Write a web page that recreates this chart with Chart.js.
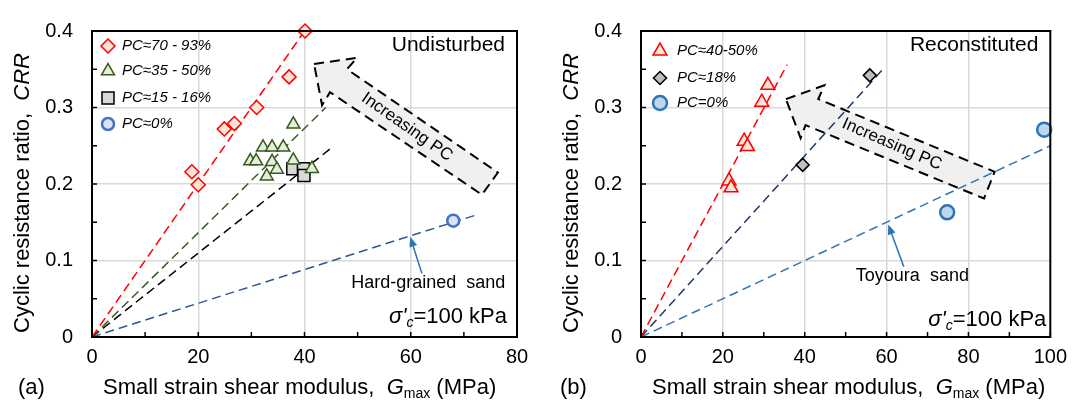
<!DOCTYPE html>
<html><head><meta charset="utf-8">
<script src="https://cdn.jsdelivr.net/npm/chart.js@4.4.1/dist/chart.umd.min.js"></script>
<style>
html,body{margin:0;padding:0;background:#fff;}
#wrap{position:relative;width:1075px;height:408px;overflow:hidden;}
.c{position:absolute;top:0;height:408px;}
</style></head><body>
<div id="wrap">
<div class="c" style="left:0;width:537px"><canvas id="ca" width="537" height="408"></canvas></div>
<div class="c" style="left:537px;width:538px"><canvas id="cb" width="538" height="408"></canvas></div>
</div>
<script>
const FONT = "'Liberation Sans', Arial, sans-serif";

// ---------- Panel (a): Undisturbed ----------
const aHighG   = [18.8, 20.0, 24.9, 26.8, 31.0, 37.1, 40.1];
const aHighCRR = [0.216, 0.199, 0.272, 0.279, 0.300, 0.340, 0.400];
const aMidG    = [37.9, 32.2, 33.9, 36.0, 29.8, 30.9, 33.9, 37.9, 34.8, 32.9, 41.4];
const aMidCRR  = [0.278, 0.248, 0.248, 0.248, 0.230, 0.230, 0.229, 0.231, 0.219, 0.210, 0.220];
const aLowG    = [37.8, 39.8, 39.9];
const aLowCRR  = [0.220, 0.220, 0.211];
const aZeroG   = [68.0];
const aZeroCRR = [0.152];
// trend lines: from origin to these end points
const aTrendEndG   = [40.0, 44.0, 45.2, 72.1];
const aTrendEndCRR = [0.400, 0.300, 0.248, 0.159];
const aLegend = ['PC≈70 - 93%', 'PC≈35 - 50%', 'PC≈15 - 16%', 'PC≈0%'];
const aXTickLabels = ['0', '20', '40', '60', '80'];

// ---------- Panel (b): Reconstituted ----------
const bHighG   = [31.0, 29.5, 25.2, 26.0, 21.5, 22.0];
const bHighCRR = [0.329, 0.307, 0.256, 0.249, 0.204, 0.195];
const bMidG    = [39.5, 55.9];
const bMidCRR  = [0.225, 0.342];
const bZeroG   = [74.8, 98.5];
const bZeroCRR = [0.163, 0.271];
const bTrendEndG   = [35.7, 59.1, 100.0];
const bTrendEndCRR = [0.356, 0.350, 0.250];
const bLegend = ['PC≈40-50%', 'PC≈18%', 'PC=0%'];
const bXTickLabels = ['0', '20', '40', '60', '80', '100'];

const yTickLabels = ['0', '0.1', '0.2', '0.3', '0.4'];

// "Increasing PC" arrow outlines (data coordinates)
const aArrowG   = [41.8, 49.9, 48.0, 76.4, 73.4, 44.8, 43.3];
const aArrowCRR = [0.357, 0.365, 0.350, 0.215, 0.186, 0.320, 0.303];
const bArrowG   = [35.4, 44.8, 43.3, 86.4, 83.8, 40.2, 39.0];
const bArrowCRR = [0.311, 0.329, 0.311, 0.216, 0.181, 0.277, 0.260];

const pts = (xs, ys) => xs.map((x, i) => ({x: x, y: ys[i]}));

function pointSet(label, xs, ys, style, r, border, fill, bw) {
  return {label, data: pts(xs, ys), pointStyle: style, pointRadius: r, pointBorderWidth: bw,
    borderColor: border, backgroundColor: fill, pointBorderColor: border, pointBackgroundColor: fill,
    showLine: false, clip: false, order: 0};
}
function trendSet(gEnd, cEnd, color) {
  return {data: [{x: 0, y: 0}, {x: gEnd, y: cEnd}], showLine: true, pointRadius: 0,
    borderColor: color, borderWidth: 1.5, borderDash: [9, 5], fill: false, clip: false, order: 1};
}

function fontOf(s) { return (s.italic ? 'italic ' : '') + (s.size || 20) + 'px ' + FONT; }
function drawRich(ctx, segs, x, y, align) {
  let total = 0;
  segs.forEach(s => { ctx.font = fontOf(s); s.w = ctx.measureText(s.t).width; total += s.w; });
  let cx = align === 'right' ? x - total : (align === 'center' ? x - total / 2 : x);
  ctx.textBaseline = 'middle'; ctx.textAlign = 'left'; ctx.fillStyle = '#000';
  segs.forEach(s => { ctx.font = fontOf(s); ctx.fillText(s.t, cx, y + (s.dy || 0)); cx += s.w; });
}
function drawArrow(ctx, x1, y1, x2, y2, color) {
  ctx.save();
  ctx.strokeStyle = color; ctx.fillStyle = color; ctx.lineWidth = 1.5; ctx.setLineDash([]);
  const a = Math.atan2(y2 - y1, x2 - x1), L = 10, W = 4;
  ctx.beginPath(); ctx.moveTo(x1, y1); ctx.lineTo(x2 - Math.cos(a) * L * 0.8, y2 - Math.sin(a) * L * 0.8); ctx.stroke();
  ctx.beginPath();
  ctx.moveTo(x2, y2);
  ctx.lineTo(x2 - Math.cos(a) * L - Math.sin(a) * W, y2 - Math.sin(a) * L + Math.cos(a) * W);
  ctx.lineTo(x2 - Math.cos(a) * L + Math.sin(a) * W, y2 - Math.sin(a) * L - Math.cos(a) * W);
  ctx.closePath(); ctx.fill();
  ctx.restore();
}

function makePanel(P) {
  const plugin = {
    id: 'panel_' + P.id,
    beforeDatasetsDraw(chart) {
      const ctx = chart.ctx, xs = chart.scales.x, ys = chart.scales.y;
      ctx.save();
      ctx.beginPath();
      P.arrowG.forEach((g, i) => {
        const px = xs.getPixelForValue(g), py = ys.getPixelForValue(P.arrowCRR[i]);
        if (i === 0) ctx.moveTo(px, py); else ctx.lineTo(px, py);
      });
      ctx.closePath();
      ctx.fillStyle = '#f0f0f0'; ctx.fill();
      ctx.setLineDash([10, 6]); ctx.lineWidth = 2; ctx.strokeStyle = '#000'; ctx.stroke();
      ctx.setLineDash([]);
      const tx = xs.getPixelForValue(P.incText[0]), ty = ys.getPixelForValue(P.incText[1]);
      ctx.translate(tx, ty); ctx.rotate(P.incText[2] * Math.PI / 180);
      ctx.font = '17px ' + FONT; ctx.fillStyle = '#000'; ctx.textAlign = 'center'; ctx.textBaseline = 'middle';
      ctx.fillText('Increasing PC', 0, 0);
      ctx.restore();
    },
    afterDatasetsDraw(chart) {
      const ctx = chart.ctx, a = chart.chartArea, xs = chart.scales.x, ys = chart.scales.y;
      ctx.save();
      // frame
      ctx.setLineDash([]); ctx.strokeStyle = '#000'; ctx.lineWidth = 2;
      ctx.strokeRect(a.left, a.top, a.right - a.left, a.bottom - a.top);
      // inward minor ticks
      ctx.lineWidth = 1.5;
      xs.ticks.forEach(t => {
        const px = xs.getPixelForValue(t.value);
        ctx.beginPath(); ctx.moveTo(px, a.bottom); ctx.lineTo(px, a.bottom - 5); ctx.stroke();
      });
      ys.ticks.forEach(t => {
        const py = ys.getPixelForValue(t.value);
        ctx.beginPath(); ctx.moveTo(a.left, py); ctx.lineTo(a.left + 5, py); ctx.stroke();
      });
      // legend
      P.legend.forEach((txt, i) => {
        const ds = chart.data.datasets[i];
        const mx = a.left + P.legX, my = a.top + P.legY[i];
        ctx.fillStyle = ds.backgroundColor; ctx.strokeStyle = ds.borderColor; ctx.lineWidth = ds.pointBorderWidth;
        Chart.helpers.drawPoint(ctx, {pointStyle: ds.pointStyle, radius: ds.pointRadius, rotation: 0, borderWidth: ds.pointBorderWidth}, mx, my);
        drawRich(ctx, [{t: txt, italic: true, size: 15}], mx + P.legTextDx, my, 'left');
      });
      // corner title
      drawRich(ctx, [{t: P.corner, size: 21}], a.right - 12, a.top + 14, 'right');
      // sigma label
      drawRich(ctx, [{t: "σ'", italic: true, size: 22}, {t: 'c', italic: true, size: 14, dy: 6}, {t: '=100 kPa', size: 22}],
        a.right - P.sigDx, a.bottom - P.sigDy, 'right');
      // sand annotation
      drawRich(ctx, [{t: P.sand, size: 18}], xs.getPixelForValue(P.sandText[0]), ys.getPixelForValue(P.sandText[1]), 'center');
      drawArrow(ctx, xs.getPixelForValue(P.sandArrow[0]), ys.getPixelForValue(P.sandArrow[1]),
        xs.getPixelForValue(P.sandArrow[2]), ys.getPixelForValue(P.sandArrow[3]), '#2e75b6');
      ctx.restore();
    },
    afterDraw(chart) {
      const ctx = chart.ctx, a = chart.chartArea;
      ctx.save();
      // x-axis title
      drawRich(ctx, [{t: 'Small strain shear modulus,  ', size: 22}, {t: 'G', italic: true, size: 22},
        {t: 'max', size: 14, dy: 6}, {t: ' (MPa)', size: 22}], a.left + 11, 388, 'left');
      drawRich(ctx, [{t: P.tag, size: 22}], P.tagX, 388, 'left');
      // y-axis title
      ctx.translate(a.left - 69, (a.top + a.bottom) / 2 + 9);
      ctx.rotate(-Math.PI / 2);
      drawRich(ctx, [{t: 'Cyclic resistance ratio,  ', size: 22}, {t: 'CRR', italic: true, size: 22}], 0, 0, 'center');
      ctx.restore();
    }
  };

  return new Chart(document.getElementById(P.canvas), {
    type: 'scatter',
    data: {datasets: P.datasets},
    options: {
      responsive: false, animation: false, events: [],
      layout: {padding: {left: 0, top: 15, right: P.padRight, bottom: 0}},
      plugins: {legend: {display: false}, tooltip: {enabled: false}},
      scales: {
        x: {
          type: 'linear', min: 0, max: P.xMax,
          afterFit: s => { s.height = 71; },
          border: {display: false},
          grid: {drawTicks: false, lineWidth: 1.5,
            color: c => (c.tick && c.tick.value % 20 === 0 && c.tick.value > 0 && c.tick.value < P.xMax) ? '#d9d9d9' : 'rgba(0,0,0,0)'},
          ticks: {stepSize: 10, padding: 8, autoSkip: false, maxRotation: 0, color: '#000',
            font: {family: FONT, size: 20},
            callback: v => (v % 20 === 0 ? P.xLabels[v / 20] : '')}
        },
        y: {
          type: 'linear', min: 0, max: 0.4,
          afterFit: s => { s.width = P.yWidth; },
          border: {display: false},
          grid: {drawTicks: false, lineWidth: 1.5,
            color: c => { if (!c.tick) return 'rgba(0,0,0,0)'; const k = Math.round(c.tick.value * 20); return (k % 2 === 0 && k > 0 && k < 8) ? '#d9d9d9' : 'rgba(0,0,0,0)'; }},
          ticks: {stepSize: 0.05, padding: 19, autoSkip: false, color: '#000',
            font: {family: FONT, size: 20},
            callback: v => { const k = Math.round(v * 20); return k % 2 === 0 ? yTickLabels[k / 2] : ''; }}
        }
      }
    },
    plugins: [plugin]
  });
}

makePanel({
  id: 'a', canvas: 'ca', xMax: 80, xLabels: aXTickLabels, yWidth: 92, padRight: 20,
  datasets: [
    pointSet(aLegend[0], aHighG, aHighCRR, 'rectRot', 7, '#ff0000', '#fce4d6', 1.5),
    pointSet(aLegend[1], aMidG, aMidCRR, 'triangle', 7.5, '#3a5a1e', '#e2efda', 1.5),
    pointSet(aLegend[2], aLowG, aLowCRR, 'rect', 8.5, '#000000', '#d9d9d9', 1.5),
    pointSet(aLegend[3], aZeroG, aZeroCRR, 'circle', 6, '#4472c4', '#dae3f3', 2.5),
    trendSet(aTrendEndG[0], aTrendEndCRR[0], '#ff0000'),
    trendSet(aTrendEndG[1], aTrendEndCRR[1], '#3a5a1e'),
    trendSet(aTrendEndG[2], aTrendEndCRR[2], '#000000'),
    trendSet(aTrendEndG[3], aTrendEndCRR[3], '#2f5597')
  ],
  legend: aLegend, legX: 16, legY: [15, 40, 67, 93], legTextDx: 14,
  corner: 'Undisturbed', sigDx: 10, sigDy: 20,
  sand: 'Hard-grained  sand', sandText: [63.3, 0.071], sandArrow: [62.1, 0.083, 59.9, 0.131],
  arrowG: aArrowG, arrowCRR: aArrowCRR, incText: [59.3, 0.2745, 35],
  tag: '(a)', tagX: 18
});

makePanel({
  id: 'b', canvas: 'cb', xMax: 100, xLabels: bXTickLabels, yWidth: 104, padRight: 21,
  datasets: [
    pointSet(bLegend[0], bHighG, bHighCRR, 'triangle', 8, '#ff0000', '#fce4d6', 1.5),
    pointSet(bLegend[1], bMidG, bMidCRR, 'rectRot', 6.5, '#000000', '#bfbfbf', 1.5),
    pointSet(bLegend[2], bZeroG, bZeroCRR, 'circle', 7, '#2e75b6', '#bdd7ee', 2.5),
    trendSet(bTrendEndG[0], bTrendEndCRR[0], '#ff0000'),
    trendSet(bTrendEndG[1], bTrendEndCRR[1], '#1f3864'),
    trendSet(bTrendEndG[2], bTrendEndCRR[2], '#2e75b6')
  ],
  legend: bLegend, legX: 19, legY: [20, 47, 72], legTextDx: 17,
  corner: 'Reconstituted', sigDx: 4, sigDy: 17,
  sand: 'Toyoura  sand', sandText: [66.3, 0.0795], sandArrow: [64.2, 0.092, 60.4, 0.147],
  arrowG: bArrowG, arrowCRR: bArrowCRR, incText: [61.3, 0.252, 23.5],
  tag: '(b)', tagX: 23
});
</script>
</body></html>
